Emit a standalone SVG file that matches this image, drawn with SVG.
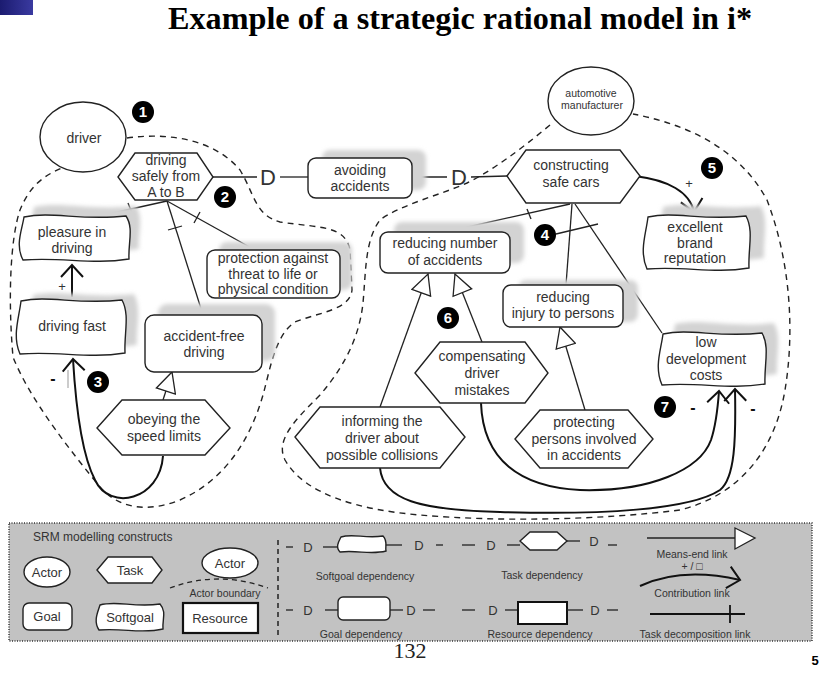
<svg xmlns="http://www.w3.org/2000/svg" width="824" height="673" viewBox="0 0 824 673">
<defs>
<style>
.t{font-family:"Liberation Sans",Arial,sans-serif;font-size:14px;fill:#333;text-anchor:middle}
.s{font-family:"Liberation Sans",Arial,sans-serif;font-size:10.5px;fill:#333;text-anchor:middle}
.sh{fill:#d3d3d3;filter:url(#blur)}
.nd{fill:#fff;stroke:#222;stroke-width:1.4}
.ln{fill:none;stroke:#222;stroke-width:1.3}
.cl{fill:none;stroke:#111;stroke-width:2}
.bd{fill:none;stroke:#222;stroke-width:1.4;stroke-dasharray:6 5}
.bg{fill:#000}
.bn{font-family:"Liberation Sans",Arial,sans-serif;font-size:15px;font-weight:bold;fill:#fff;text-anchor:middle}
.dl{font-family:"Liberation Sans",Arial,sans-serif;font-size:22px;fill:#333;text-anchor:middle}
.ld{font-family:"Liberation Sans",Arial,sans-serif;font-size:13px;fill:#333;text-anchor:middle}
.mi{font-family:"Liberation Sans",Arial,sans-serif;font-size:16px;font-weight:bold;fill:#111;text-anchor:middle}
</style>
<linearGradient id="blue" x1="0" y1="0" x2="1" y2="0"><stop offset="0" stop-color="#1b1b70"/><stop offset="1" stop-color="#3a3aa0"/></linearGradient>
<filter id="blur" x="-20%" y="-30%" width="140%" height="160%"><feGaussianBlur stdDeviation="2"/></filter>
<marker id="me" viewBox="0 0 22 22" markerWidth="22" markerHeight="22" refX="21" refY="11" orient="auto" markerUnits="userSpaceOnUse"><path d="M1,1 L21,11 L1,21 Z" fill="#fff" stroke="#222" stroke-width="1.3"/></marker>
<marker id="ct" viewBox="0 0 15 24" markerWidth="15" markerHeight="24" refX="13" refY="12" orient="auto" markerUnits="userSpaceOnUse"><path d="M1,1 L13,12 L1,23" fill="none" stroke="#111" stroke-width="2"/></marker>
</defs>

<rect x="0" y="0" width="33" height="15" fill="url(#blue)"/>
<text x="460" y="29" text-anchor="middle" font-family="Liberation Serif,serif" font-weight="bold" font-size="31" textLength="584" lengthAdjust="spacingAndGlyphs" fill="#000">Example of a strategic rational model in i*</text>

<g id="boundaries">
<path class="bd" d="M127,138 C170,132 215,140 240,170 C255,195 255,215 280,222 C320,228 345,225 350,250 L352,290 C350,310 320,312 295,322 C275,335 270,370 263,395 C250,440 225,480 180,500 C150,512 120,510 100,487 C70,450 30,400 13,357 C8,300 10,240 20,210 C30,185 45,175 62,168"/>
<path class="bd" d="M550,125 C520,150 490,172 467,183 C440,195 400,205 380,220 C365,240 366,270 363,303 C360,330 350,360 320,395 C295,420 275,440 285,460 C305,495 360,510 420,515 C500,522 600,520 680,510 C740,495 775,450 785,390 C795,330 790,260 767,200 C740,150 690,125 633,114"/>
</g>

<g id="actor-driver"><ellipse class="nd" cx="83" cy="137" rx="43" ry="35"/><text class="t" x="84" y="143">driver</text></g>
<g id="actor-manufacturer"><ellipse class="nd" cx="591" cy="101" rx="43" ry="34"/><text class="s" font-size="10" x="591" y="97">automotive</text><text class="s" font-size="10" x="592" y="109">manufacturer</text></g>

<g id="connectors">
<line class="ln" x1="213" y1="177" x2="257" y2="177"/>
<text class="dl" x="268" y="185">D</text>
<line class="ln" x1="280" y1="177" x2="308" y2="177"/>
<line class="ln" x1="412" y1="177" x2="447" y2="177"/>
<text class="dl" x="459" y="185">D</text>
<line class="ln" x1="471" y1="177" x2="507" y2="176"/>
<line class="ln" x1="167" y1="201" x2="104" y2="215"/>
<line class="ln" x1="128" y1="203" x2="132" y2="213"/>
<line class="ln" x1="167" y1="201" x2="255" y2="250"/>
<line class="ln" x1="200" y1="212" x2="194" y2="223"/>
<line class="ln" x1="167" y1="201" x2="203" y2="315"/>
<line class="ln" x1="168" y1="230" x2="182" y2="226"/>
<line class="ln" x1="570" y1="204" x2="445" y2="232"/>
<line class="ln" x1="527" y1="209" x2="531" y2="219"/>
<line class="ln" x1="572" y1="204" x2="566" y2="285"/>
<line class="ln" x1="575" y1="204" x2="662" y2="333"/>
<line class="ln" x1="556" y1="234" x2="598" y2="224"/>
<line class="ln" x1="380" y1="407" x2="428" y2="274" marker-end="url(#me)"/>
<line class="ln" x1="482" y1="342" x2="455" y2="274" marker-end="url(#me)"/>
<line class="ln" x1="585" y1="410" x2="560" y2="327" marker-end="url(#me)"/>
<line class="ln" x1="163" y1="400" x2="172" y2="372" marker-end="url(#me)"/>
<line class="cl" x1="72" y1="297" x2="72" y2="265" marker-end="url(#ct)"/>
<path class="cl" d="M635,176 C668,180 690,192 694,212" marker-end="url(#ct)"/>
<path class="cl" d="M163,456 C160,500 110,512 95,480 C82,455 76,410 73,359" marker-end="url(#ct)"/>
<path class="cl" d="M481,403 C483,460 520,487 580,490 C650,492 700,470 711,440 C716,425 718,405 719,391" marker-end="url(#ct)"/>
<path class="cl" d="M380,468 C383,500 420,510 500,512 C600,515 690,510 720,490 C735,478 736,440 735,389" marker-end="url(#ct)"/>
<text class="ld" x="62" y="291">+</text>
<text class="ld" x="689" y="188" fill="#5a1a1a">+</text>
<text class="mi" x="53" y="384">-</text>
<line x1="68" y1="370" x2="68" y2="388" stroke="#999" stroke-width="1"/>
<text class="mi" x="693" y="413">-</text>
<text class="mi" x="753" y="414">-</text>
</g>

<g id="task-driving-safely"><polygon class="nd" points="118,177 135,153 197,153 213,177 197,200 135,200"/><text class="t" x="166" y="165">driving</text><text class="t" x="166" y="181">safely from</text><text class="t" x="166" y="197">A to B</text></g>

<g id="goal-avoiding-accidents"><rect class="sh" x="322" y="150" width="104" height="40" rx="8"/><rect class="nd" x="308" y="158" width="104" height="40" rx="8"/><text class="t" x="360" y="175">avoiding</text><text class="t" x="360" y="191">accidents</text></g>

<g id="task-constructing"><polygon class="nd" points="507,176 526,150 620,150 640,176 620,203 526,203"/><text class="t" x="571" y="170">constructing</text><text class="t" x="571" y="187">safe cars</text></g>

<g id="softgoal-excellent"><path class="sh" d="M663,207 C690,201 717,211 761,206 C769,221 763,238 764,258 C728,264 701,256 662,259 C654,241 661,224 663,207 Z"/><path class="nd" d="M648,217 C675,211 702,221 746,216 C754,231 748,248 749,268 C713,274 686,266 647,269 C639,251 646,234 648,217 Z"/><text class="t" x="695" y="232">excellent</text><text class="t" x="695" y="248">brand</text><text class="t" x="695" y="263">reputation</text></g>

<g id="goal-reducing-number"><rect class="sh" x="394" y="222" width="130" height="41" rx="8"/><rect class="nd" x="380" y="232" width="130" height="41" rx="8"/><text class="t" x="445" y="248">reducing number</text><text class="t" x="445" y="265">of accidents</text></g>

<g id="goal-reducing-injury"><rect class="sh" x="518" y="280" width="120" height="42" rx="8"/><rect class="nd" x="503" y="285" width="120" height="42" rx="8"/><text class="t" x="563" y="302">reducing</text><text class="t" x="563" y="318">injury to persons</text></g>

<g id="softgoal-low-costs"><path class="sh" d="M675,324 C702,318 730,328 774,323 C782,337 776,355 777,374 C741,380 713,372 674,375 C666,357 673,340 675,324 Z"/><path class="nd" d="M663,334 C690,328 718,338 762,333 C770,347 764,365 765,384 C729,390 701,382 662,385 C654,367 661,350 663,334 Z"/><text class="t" x="706" y="347">low</text><text class="t" x="706" y="364">development</text><text class="t" x="706" y="380">costs</text></g>

<g id="task-compensating"><polygon class="nd" points="415,373 440,342 525,342 548,373 525,403 440,403"/><text class="t" x="482" y="361">compensating</text><text class="t" x="482" y="378">driver</text><text class="t" x="482" y="395">mistakes</text></g>

<g id="task-informing"><polygon class="nd" points="295,437 320,407 440,407 465,437 440,468 320,468"/><text class="t" x="382" y="426">informing the</text><text class="t" x="382" y="443">driver about</text><text class="t" x="382" y="460">possible collisions</text></g>

<g id="task-protecting"><polygon class="nd" points="515,439 540,410 628,410 653,439 628,468 540,468"/><text class="t" x="584" y="427">protecting</text><text class="t" x="584" y="444">persons involved</text><text class="t" x="584" y="460">in accidents</text></g>

<g id="softgoal-pleasure"><path class="sh" d="M34,207 C62,201 91,211 136,206 C144,218 138,233 139,249 C102,255 74,247 33,250 C25,235 32,220 34,207 Z"/><path class="nd" d="M24,217 C52,211 81,221 126,216 C134,228 128,243 129,259 C92,265 64,257 23,260 C15,245 22,230 24,217 Z"/><text class="t" x="72" y="237">pleasure in</text><text class="t" x="72" y="253">driving</text></g>

<g id="goal-protection"><rect class="sh" x="219" y="242" width="133" height="48" rx="8"/><rect class="nd" x="207" y="250" width="133" height="48" rx="8"/><text class="t" x="273" y="263">protection against</text><text class="t" x="273" y="279">threat to life or</text><text class="t" x="273" y="294">physical condition</text></g>

<g id="softgoal-driving-fast"><path class="sh" d="M33,295 C61,289 89,299 134,294 C142,309 136,327 137,345 C100,351 72,343 32,346 C24,330 31,312 33,295 Z"/><path class="nd" d="M21,301 C49,295 77,305 122,300 C130,315 124,333 125,353 C88,359 60,351 20,354 C12,336 19,318 21,301 Z"/><text class="t" x="72" y="331">driving fast</text></g>

<g id="goal-accident-free"><rect class="sh" x="158" y="304" width="117" height="57" rx="9"/><rect class="nd" x="145" y="315" width="117" height="57" rx="9"/><text class="t" x="204" y="341">accident-free</text><text class="t" x="204" y="357">driving</text></g>

<g id="task-obeying"><polygon class="nd" points="97,428 122,400 205,400 230,428 205,455 122,455"/><text class="t" x="164" y="424">obeying the</text><text class="t" x="164" y="441">speed limits</text></g>

<g id="badges">
<circle class="bg" cx="143" cy="112" r="11"/><text class="bn" x="143" y="117">1</text>
<circle class="bg" cx="225" cy="197" r="11"/><text class="bn" x="225" y="202">2</text>
<circle class="bg" cx="98" cy="382" r="11"/><text class="bn" x="98" y="387">3</text>
<circle class="bg" cx="545" cy="235" r="11"/><text class="bn" x="545" y="240">4</text>
<circle class="bg" cx="712" cy="168" r="11"/><text class="bn" x="712" y="173">5</text>
<circle class="bg" cx="448" cy="318" r="11"/><text class="bn" x="448" y="323">6</text>
<circle class="bg" cx="665" cy="407" r="11"/><text class="bn" x="665" y="412">7</text>
</g>

<g id="legend">
<rect x="9" y="523" width="803" height="118" fill="#c2c2c2" stroke="#333" stroke-width="1.5" stroke-dasharray="1 1.5"/>
<text x="33" y="541" font-family="Liberation Sans,Arial,sans-serif" font-size="12" fill="#333">SRM modelling constructs</text>
<ellipse class="nd" cx="47" cy="572" rx="23" ry="15"/><text class="ld" x="47" y="577">Actor</text>
<polygon class="nd" points="97,570 108,557 152,557 162,570 152,583 108,583"/><text class="ld" x="130" y="575">Task</text>
<ellipse class="nd" cx="230" cy="563" rx="28" ry="15"/><text class="ld" x="230" y="568">Actor</text>
<path d="M170,588 Q218,570 268,588" fill="none" stroke="#222" stroke-width="1.3" stroke-dasharray="5 4"/>
<text class="s" x="225" y="597">Actor boundary</text>
<rect class="nd" x="23" y="603" width="49" height="27" rx="6"/><text class="ld" x="47" y="621">Goal</text>
<path class="nd" d="M100,605 C117,600 134,608 160,604 C167,612 162,620 163,629 C142,634 124,628 99,630 C93,621 98,612 100,605 Z"/><text class="ld" x="130" y="622">Softgoal</text>
<rect x="183" y="603" width="75" height="30" fill="#fff" stroke="#111" stroke-width="2.2"/><text class="ld" x="220" y="623">Resource</text>
<line x1="278" y1="540" x2="278" y2="638" stroke="#222" stroke-width="1.5" stroke-dasharray="5 4"/>
<line class="ln" x1="286" y1="547" x2="293" y2="547"/><text class="ld" x="308" y="552">D</text><line class="ln" x1="323" y1="547" x2="338" y2="547"/>
<path class="nd" d="M341,537 C353,533 365,539 383,536 C388,541 385,546 386,551 C371,555 358,550 340,552 C335,547 339,541 341,537 Z"/>
<line class="ln" x1="386" y1="545" x2="402" y2="545"/><text class="ld" x="419" y="550">D</text><line class="ln" x1="436" y1="545" x2="443" y2="545"/>
<line class="ln" x1="462" y1="545" x2="475" y2="545"/><text class="ld" x="491" y="550">D</text><line class="ln" x1="507" y1="545" x2="520" y2="545"/>
<polygon class="nd" points="520,541 530,532 557,532 567,541 557,550 530,550"/>
<line class="ln" x1="567" y1="541" x2="580" y2="541"/><text class="ld" x="594" y="546">D</text><line class="ln" x1="608" y1="545" x2="617" y2="545"/>
<text class="s" x="365" y="580">Softgoal dependency</text>
<text class="s" x="542" y="579">Task dependency</text>
<line class="ln" x1="647" y1="538" x2="735" y2="538"/><polygon points="735,528 755,538 735,549" fill="#fff" stroke="#222" stroke-width="1.3"/>
<text class="s" x="692" y="558">Means-end link</text>
<text class="s" x="692" y="570">+ / □</text>
<path class="cl" d="M640,586 C670,572 705,572 740,580" marker-end="url(#ct)"/>
<text class="s" x="692" y="597">Contribution link</text>
<line class="ln" x1="286" y1="610" x2="293" y2="610"/><text class="ld" x="308" y="615">D</text><line class="ln" x1="325" y1="610" x2="338" y2="610"/>
<rect class="nd" x="338" y="597" width="52" height="23" rx="5"/>
<line class="ln" x1="390" y1="610" x2="403" y2="610"/><text class="ld" x="411" y="615">D</text><line class="ln" x1="423" y1="610" x2="435" y2="610"/>
<line class="ln" x1="462" y1="610" x2="475" y2="610"/><text class="ld" x="493" y="615">D</text><line class="ln" x1="505" y1="610" x2="518" y2="610"/>
<rect x="518" y="602" width="49" height="22" fill="#fff" stroke="#111" stroke-width="2"/>
<line class="ln" x1="567" y1="610" x2="583" y2="610"/><text class="ld" x="595" y="615">D</text><line class="ln" x1="607" y1="610" x2="618" y2="610"/>
<line x1="650" y1="614" x2="745" y2="614" stroke="#111" stroke-width="1.8"/><line x1="730" y1="605" x2="730" y2="623" stroke="#111" stroke-width="1.8"/>
<text class="s" x="361" y="638">Goal dependency</text>
<text class="s" x="540" y="638">Resource dependency</text>
<text class="s" x="695" y="638">Task decomposition link</text>
</g>

<text x="410" y="658" text-anchor="middle" font-family="Liberation Serif,serif" font-size="22" fill="#222">132</text>
<text x="815" y="665" text-anchor="middle" font-family="Liberation Sans,Arial,sans-serif" font-weight="bold" font-size="13" fill="#000">5</text>
</svg>
